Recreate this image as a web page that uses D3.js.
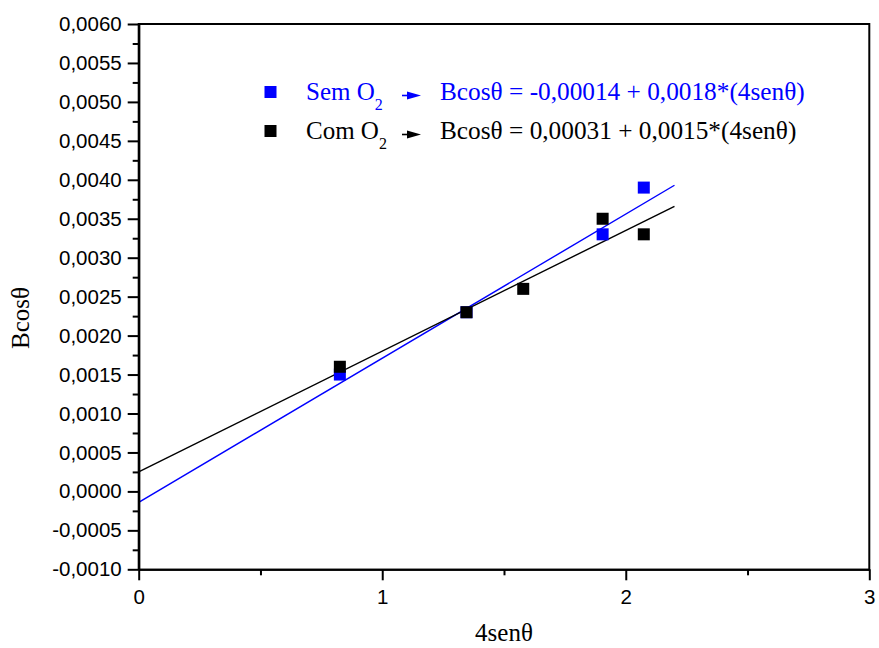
<!DOCTYPE html>
<html>
<head>
<meta charset="utf-8">
<script src="https://cdn.jsdelivr.net/npm/d3@7"></script>
<style>
  html, body { margin: 0; padding: 0; background: #fff; }
  svg { display: block; }
</style>
</head>
<body>
<svg id="chart" width="879" height="648"></svg>
<script>
// ---- data ----
const semX = [0.826, 1.346, 1.905, 2.074];
const semY = [0.0015, 0.0023, 0.0033, 0.0039];
const comX = [0.826, 1.346, 1.579, 1.905, 2.074];
const comY = [0.0016, 0.0023, 0.0026, 0.0035, 0.0033];
const semFit = [-0.00014, 0.00185];   // intercept, slope (as drawn)
const comFit = [0.00025, 0.00155];
const fitRange = [0, 2.2];
const xTicks = [0, 1, 2, 3];
const yTicks = d3.range(-0.001, 0.00601, 0.0005);
const seriesNames = ["Sem O", "Com O"];
const equations = ["Bcos\u03b8 = -0,00014 + 0,0018*(4sen\u03b8)", "Bcos\u03b8 = 0,00031 + 0,0015*(4sen\u03b8)"];
const colors = ["#0000ff", "#000000"];

// ---- layout ----
const svg = d3.select("#chart");
const L = 138.7, R = 869.3, T = 24, B = 569.3;
const x = d3.scaleLinear().domain([0, 3]).range([L, R]);
const y = d3.scaleLinear().domain([-0.001, 0.006]).range([B, T]);
const fmtY = v => { const s = d3.format(".4f")(Math.abs(v) < 1e-9 ? 0 : v); return s.replace("\u2212", "-").replace(".", ","); };

// fit lines
[[semFit, colors[0]], [comFit, colors[1]]].forEach(([f, c]) => {
  svg.append("line")
    .attr("x1", x(fitRange[0])).attr("y1", y(f[0] + f[1] * fitRange[0]))
    .attr("x2", x(fitRange[1])).attr("y2", y(f[0] + f[1] * fitRange[1]))
    .attr("stroke", c).attr("stroke-width", 1.4);
});

// points
const ms = 12;
svg.append("g").selectAll("rect").data(semX.map((d, i) => [d, semY[i]])).join("rect")
  .attr("x", d => x(d[0]) - ms / 2).attr("y", d => y(d[1]) - ms / 2)
  .attr("width", ms).attr("height", ms).attr("fill", colors[0]);
svg.append("g").selectAll("rect").data(comX.map((d, i) => [d, comY[i]])).join("rect")
  .attr("x", d => x(d[0]) - ms / 2).attr("y", d => y(d[1]) - ms / 2)
  .attr("width", ms).attr("height", ms).attr("fill", colors[1]);

// axes
const tickFont = "Liberation Sans, Arial, sans-serif";
svg.append("g").attr("transform", `translate(0,${B})`)
  .call(d3.axisBottom(x).tickValues(xTicks).tickFormat(d3.format("d")).tickSize(11).tickSizeOuter(0).tickPadding(9));
svg.append("g").attr("transform", `translate(0,${B})`)
  .call(d3.axisBottom(x).tickValues([0.5, 1.5, 2.5]).tickFormat("").tickSize(6).tickSizeOuter(0));
svg.append("g").attr("transform", `translate(${L},0)`)
  .call(d3.axisLeft(y).tickValues(yTicks).tickFormat(fmtY).tickSize(11).tickSizeOuter(0).tickPadding(6));
svg.append("g").attr("transform", `translate(${L},0)`)
  .call(d3.axisLeft(y).tickValues(d3.range(-0.00075, 0.006, 0.0005)).tickFormat("").tickSize(6).tickSizeOuter(0));
svg.selectAll(".domain, .tick line").attr("stroke", "#000").attr("stroke-width", 2);
svg.selectAll(".tick text").attr("font-family", tickFont).attr("font-size", 20.5).attr("fill", "#000");

// frame
svg.append("line").attr("x1", L).attr("x2", R).attr("y1", T).attr("y2", T).attr("stroke", "#000").attr("stroke-width", 2);
svg.append("line").attr("x1", R).attr("x2", R).attr("y1", T - 1).attr("y2", B + 1).attr("stroke", "#000").attr("stroke-width", 2);
svg.append("line").attr("x1", L).attr("x2", L).attr("y1", T - 1).attr("y2", B + 1).attr("stroke", "#000").attr("stroke-width", 2);

// axis titles
const serif = "Liberation Serif, Times New Roman, serif";
svg.append("text").attr("x", (L + R) / 2).attr("y", 641).attr("text-anchor", "middle")
  .attr("font-family", serif).attr("font-size", 25).text("4sen\u03b8");
svg.append("text").attr("transform", "translate(29,318) rotate(-90)").attr("text-anchor", "middle")
  .attr("font-family", serif).attr("font-size", 25).text("Bcos\u03b8");

// legend
const rowsY = [100, 139];
seriesNames.forEach((name, i) => {
  const by = rowsY[i];
  const c = colors[i];
  svg.append("rect").attr("x", 270.5 - 6).attr("y", by - 8 - 6).attr("width", 12).attr("height", 12).attr("fill", c);
  const t = svg.append("text").attr("x", 306).attr("y", by).attr("font-family", serif).attr("font-size", 25).attr("fill", c);
  t.append("tspan").text(name);
  t.append("tspan").attr("dy", 10).attr("font-size", 16).text("2");
  const ay = by - 4.5;
  svg.append("line").attr("x1", 402).attr("x2", 410).attr("y1", ay).attr("y2", ay).attr("stroke", c).attr("stroke-width", 1.6);
  svg.append("path").attr("d", `M${407},${ay - 4} L${421},${ay} L${407},${ay + 4} Z`).attr("fill", c);
  svg.append("text").attr("x", 440).attr("y", by).attr("font-family", serif).attr("font-size", 25.3).attr("fill", c).text(equations[i]);
});
</script>
</body>
</html>
